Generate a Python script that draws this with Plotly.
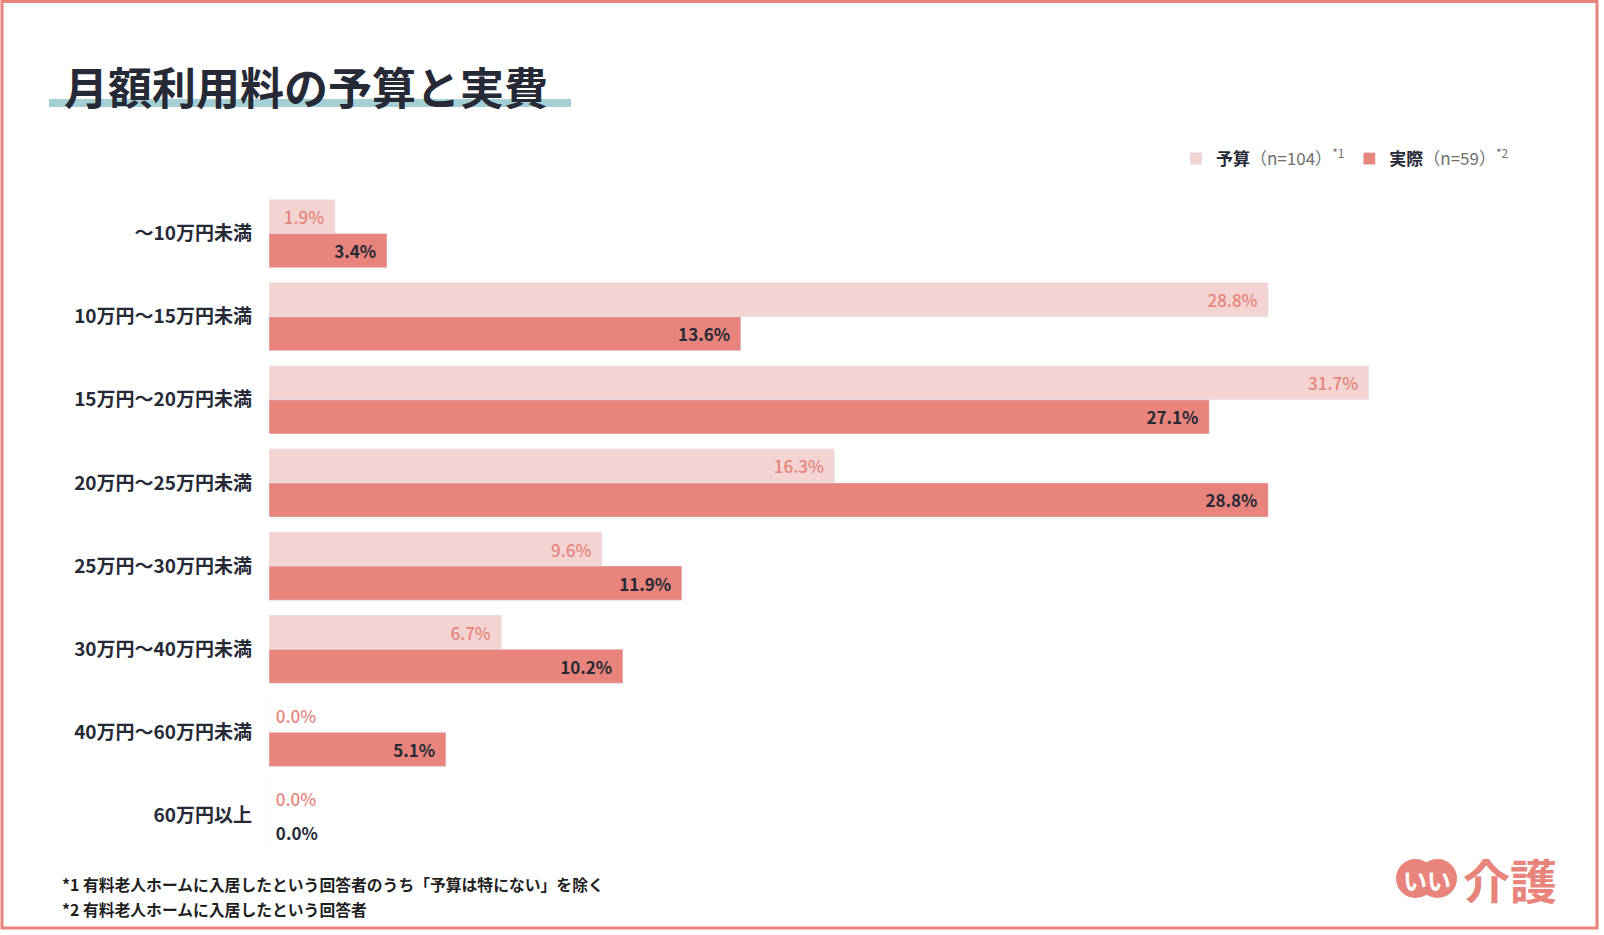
import plotly.graph_objects as go

categories = [
    "～10万円未満",
    "10万円～15万円未満",
    "15万円～20万円未満",
    "20万円～25万円未満",
    "25万円～30万円未満",
    "30万円～40万円未満",
    "40万円～60万円未満",
    "60万円以上",
]
budget = [1.9, 28.8, 31.7, 16.3, 9.6, 6.7, 0.0, 0.0]
actual = [3.4, 13.6, 27.1, 28.8, 11.9, 10.2, 5.1, 0.0]

budget_name = "<b>予算</b><span style='color:#707070'>（n=104）<sup>*1</sup></span>"
actual_name = "<b>実際</b><span style='color:#707070'>（n=59）<sup>*2</sup></span>"

FONT = "Noto Sans CJK JP"
CORAL = "#e8847c"
PINK = "#f3d4d2"
DARK = "#262a36"

W_PX, H_PX = 1604, 935
# plot area in pixels
L, R, T, B = 269, 1518, 192, 857


def px(x):
    return (x - L) / (R - L)


def py(y):
    return (B - y) / (B - T)


def positions(vals):
    return ["inside" if v > 0 else "outside" for v in vals]


def templates(vals):
    # labels sit a little away from the bar edge, as in the original
    return ["%{x:.1f}%\u00a0\u00a0" if v > 0 else "\u00a0%{x:.1f}%" for v in vals]


fig = go.Figure()
fig.add_trace(go.Bar(
    y=categories, x=budget, orientation="h", name=budget_name,
    marker=dict(color=PINK),
    texttemplate=templates(budget), textposition=positions(budget),
    insidetextanchor="end",
    textfont=dict(family=FONT, size=17, color=CORAL, weight=500),
    cliponaxis=False,
))
fig.add_trace(go.Bar(
    y=categories, x=actual, orientation="h", name=actual_name,
    marker=dict(color=CORAL),
    texttemplate=templates(actual), textposition=positions(actual),
    insidetextanchor="end",
    textfont=dict(family=FONT, size=17, color=DARK, weight="bold"),
    cliponaxis=False,
))

fig.update_layout(
    width=W_PX, height=H_PX,
    margin=dict(l=L, r=W_PX - R, t=T, b=H_PX - B),
    barmode="group", bargap=0.18, bargroupgap=0,
    plot_bgcolor="white", paper_bgcolor="white",
    font=dict(family=FONT, color=DARK),
    showlegend=True,
    legend=dict(
        orientation="h", x=px(1514), xanchor="right", y=py(159), yanchor="middle",
        traceorder="normal", font=dict(size=17, color=DARK),
        itemwidth=30, bgcolor="rgba(0,0,0,0)",
    ),
)
fig.update_xaxes(range=[0, 36], visible=False)
fig.update_yaxes(
    autorange="reversed", showgrid=False, zeroline=False, ticks="",
    ticklabelstandoff=16,
    tickfont=dict(family=FONT, size=19, color=DARK, weight="bold"),
)

shapes = [
    # outer frame
    dict(type="rect", xref="paper", yref="paper",
         x0=px(2), x1=px(1597), y0=py(928), y1=py(1.5),
         line=dict(color=CORAL, width=3), fillcolor="rgba(0,0,0,0)"),
    # title underline
    dict(type="rect", xref="paper", yref="paper",
         x0=px(49), x1=px(571), y0=py(107), y1=py(99),
         line=dict(width=0), fillcolor="#a4cfd5"),
    # logo circles
    dict(type="circle", xref="paper", yref="paper",
         x0=px(1396), x1=px(1435), y0=py(898), y1=py(859),
         line=dict(width=0), fillcolor=CORAL),
    dict(type="circle", xref="paper", yref="paper",
         x0=px(1418), x1=px(1457), y0=py(898), y1=py(859),
         line=dict(width=0), fillcolor=CORAL),
]
fig.update_layout(shapes=shapes)

annotations = [
    dict(text="<b>月額利用料の予算と実費</b>", x=px(62), y=py(86),
         xanchor="left", yanchor="middle", font=dict(size=44, color=DARK)),
    dict(text="<b>*1 有料老人ホームに入居したという回答者のうち「予算は特にない」を除く</b>",
         x=px(60), y=py(884), xanchor="left", yanchor="middle",
         font=dict(size=15.8, color="#1f1f1f")),
    dict(text="<b>*2 有料老人ホームに入居したという回答者</b>",
         x=px(60), y=py(909), xanchor="left", yanchor="middle",
         font=dict(size=15.8, color="#1f1f1f")),
    dict(text="<b>い</b>", x=px(1415), y=py(879), xanchor="center", yanchor="middle",
         font=dict(size=24, color="white")),
    dict(text="<b>い</b>", x=px(1439), y=py(879), xanchor="center", yanchor="middle",
         font=dict(size=24, color="white")),
    dict(text="<b>介護</b>", x=px(1461), y=py(878), xanchor="left", yanchor="middle",
         font=dict(size=47, color=CORAL)),
]
for a in annotations:
    fig.add_annotation(xref="paper", yref="paper", showarrow=False, **a)

fig.write_html(
    "out.html",
    config={"displayModeBar": False},
    post_script="document.body.style.margin='0';",
)
